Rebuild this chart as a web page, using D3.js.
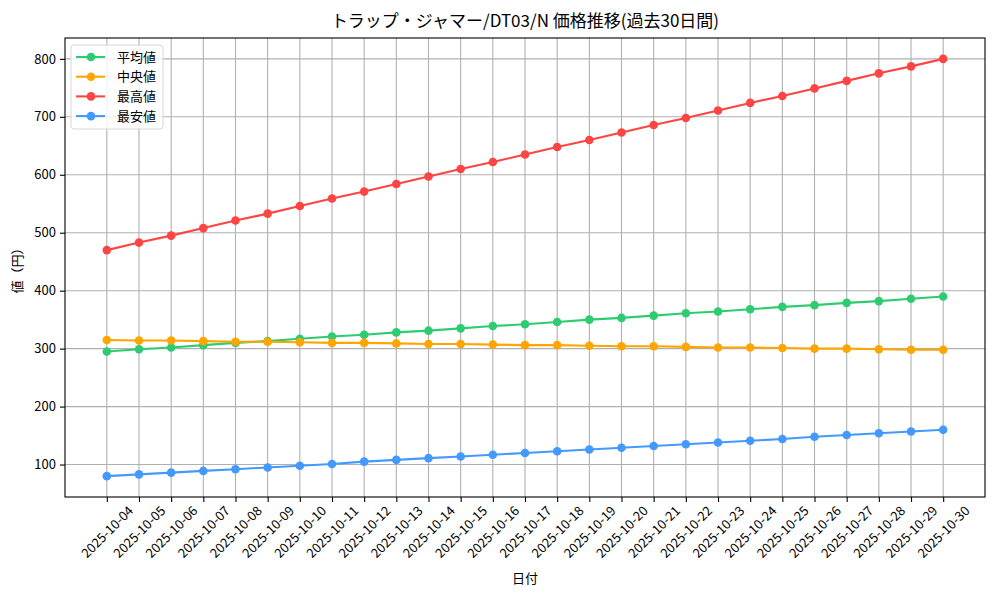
<!DOCTYPE html>
<html><head><meta charset="utf-8">
<script src="https://cdn.jsdelivr.net/npm/d3@7"></script>
<style>
body{margin:0;background:#fff;}
text{font-family:"Noto Sans CJK JP","Noto Sans",sans-serif;fill:#000;}
</style></head>
<body><svg id="c" width="1000" height="600"></svg>
<script>
const dates = ["2025-10-04","2025-10-05","2025-10-06","2025-10-07","2025-10-08","2025-10-09","2025-10-10","2025-10-11","2025-10-12","2025-10-13","2025-10-14","2025-10-15","2025-10-16","2025-10-17","2025-10-18","2025-10-19","2025-10-20","2025-10-21","2025-10-22","2025-10-23","2025-10-24","2025-10-25","2025-10-26","2025-10-27","2025-10-28","2025-10-29","2025-10-30"];
const avgValues = [295,299,302,306,310,313,317,321,324,328,331,335,339,342,346,350,353,357,361,364,368,372,375,379,382,386,390];
const medianValues = [315,314,314,313,312,312,311,310,310,309,308,308,307,306,306,305,304,304,303,302,302,301,300,300,299,298,298];
const maxValues = [470,483,495,508,521,533,546,559,571,584,597,610,622,635,648,660,673,686,698,711,724,736,749,762,775,787,800];
const minValues = [80,83,86,89,92,95,98,101,105,108,111,114,117,120,123,126,129,132,135,138,141,144,148,151,154,157,160];
const seriesNames = ["平均値","中央値","最高値","最安値"];
const seriesColors = ["#2ecc71","#ffa500","#ff4444","#4499ff"];
const yTicks = [100,200,300,400,500,600,700,800];
const title = "トラップ・ジャマー/DT03/N 価格推移(過去30日間)";
const xLabel = "日付", yLabel = "値（円）";

const series = [avgValues, medianValues, maxValues, minValues];
const svg = d3.select("#c");
const L=65, R=985, T=38, B=497;
const n = dates.length;
const x = d3.scaleLinear().domain([-0.05*(n-1), (n-1)*1.05]).range([L,R]);
const allV = series.flat();
const lo = d3.min(allV), hi = d3.max(allV), pad=(hi-lo)*0.05;
const y = d3.scaleLinear().domain([lo-pad, hi+pad]).range([B,T]);

// grid
const g = svg.append("g");
g.selectAll(".vg").data(dates).join("line")
  .attr("x1",(d,i)=>x(i)).attr("x2",(d,i)=>x(i)).attr("y1",T).attr("y2",B)
  .attr("stroke","#b0b0b0").attr("stroke-width",1.1);
g.selectAll(".hg").data(yTicks).join("line")
  .attr("x1",L).attr("x2",R).attr("y1",d=>y(d)).attr("y2",d=>y(d))
  .attr("stroke","#b0b0b0").attr("stroke-width",1.1);

// axes
const xAxis = d3.axisBottom(x).tickValues(d3.range(n)).tickFormat(i=>dates[i]).tickSize(5).tickPadding(3);
const xa = svg.append("g").attr("transform",`translate(0,${B})`).call(xAxis);
xa.select(".domain").remove();
xa.selectAll("line").attr("stroke","#000").attr("stroke-width",1.1);
xa.selectAll("text").attr("font-size",13).attr("text-anchor","middle")
  .attr("dy","0.35em").attr("y",0)
  .attr("transform","translate(0,35) rotate(-45)");
const yAxis = d3.axisLeft(y).tickValues(yTicks).tickSize(5).tickPadding(4);
const ya = svg.append("g").attr("transform",`translate(${L},0)`).call(yAxis);
ya.select(".domain").remove();
ya.selectAll("line").attr("stroke","#000").attr("stroke-width",1.1);
ya.selectAll("text").attr("font-size",13);

// lines
const line = d3.line().x((d,i)=>x(i)).y(d=>y(d));
series.forEach((s,k)=>{
  svg.append("path").datum(s).attr("d",line).attr("fill","none")
    .attr("stroke",seriesColors[k]).attr("stroke-width",2.1);
  svg.append("g").selectAll("circle").data(s).join("circle")
    .attr("cx",(d,i)=>x(i)).attr("cy",d=>y(d)).attr("r",4.3).attr("fill",seriesColors[k]);
});

// frame
svg.append("rect").attr("x",L).attr("y",T).attr("width",R-L).attr("height",B-T)
  .attr("fill","none").attr("stroke","#000").attr("stroke-width",1.1);

// legend
const lg = svg.append("g");
lg.append("rect").attr("x",71).attr("y",45).attr("width",92).attr("height",84).attr("rx",3)
  .attr("fill","#fff").attr("fill-opacity",0.8).attr("stroke","#d6d6d6").attr("stroke-width",1);
seriesNames.forEach((nm,k)=>{
  const yy = 57 + k*19.7;
  lg.append("line").attr("x1",76).attr("x2",105).attr("y1",yy).attr("y2",yy)
    .attr("stroke",seriesColors[k]).attr("stroke-width",2.1);
  lg.append("circle").attr("cx",91).attr("cy",yy).attr("r",4.3).attr("fill",seriesColors[k]);
  lg.append("text").attr("x",117).attr("y",yy).attr("dy","0.35em").attr("font-size",13).text(nm);
});

// titles
svg.append("text").attr("x",(L+R)/2).attr("y",27).attr("text-anchor","middle").attr("font-size",17).text(title);
svg.append("text").attr("x",(L+R)/2).attr("y",583).attr("text-anchor","middle").attr("font-size",13).text(xLabel);
svg.append("text").attr("transform",`translate(22,${(T+B)/2}) rotate(-90)`).attr("text-anchor","middle").attr("font-size",13).text(yLabel);
</script></body></html>
